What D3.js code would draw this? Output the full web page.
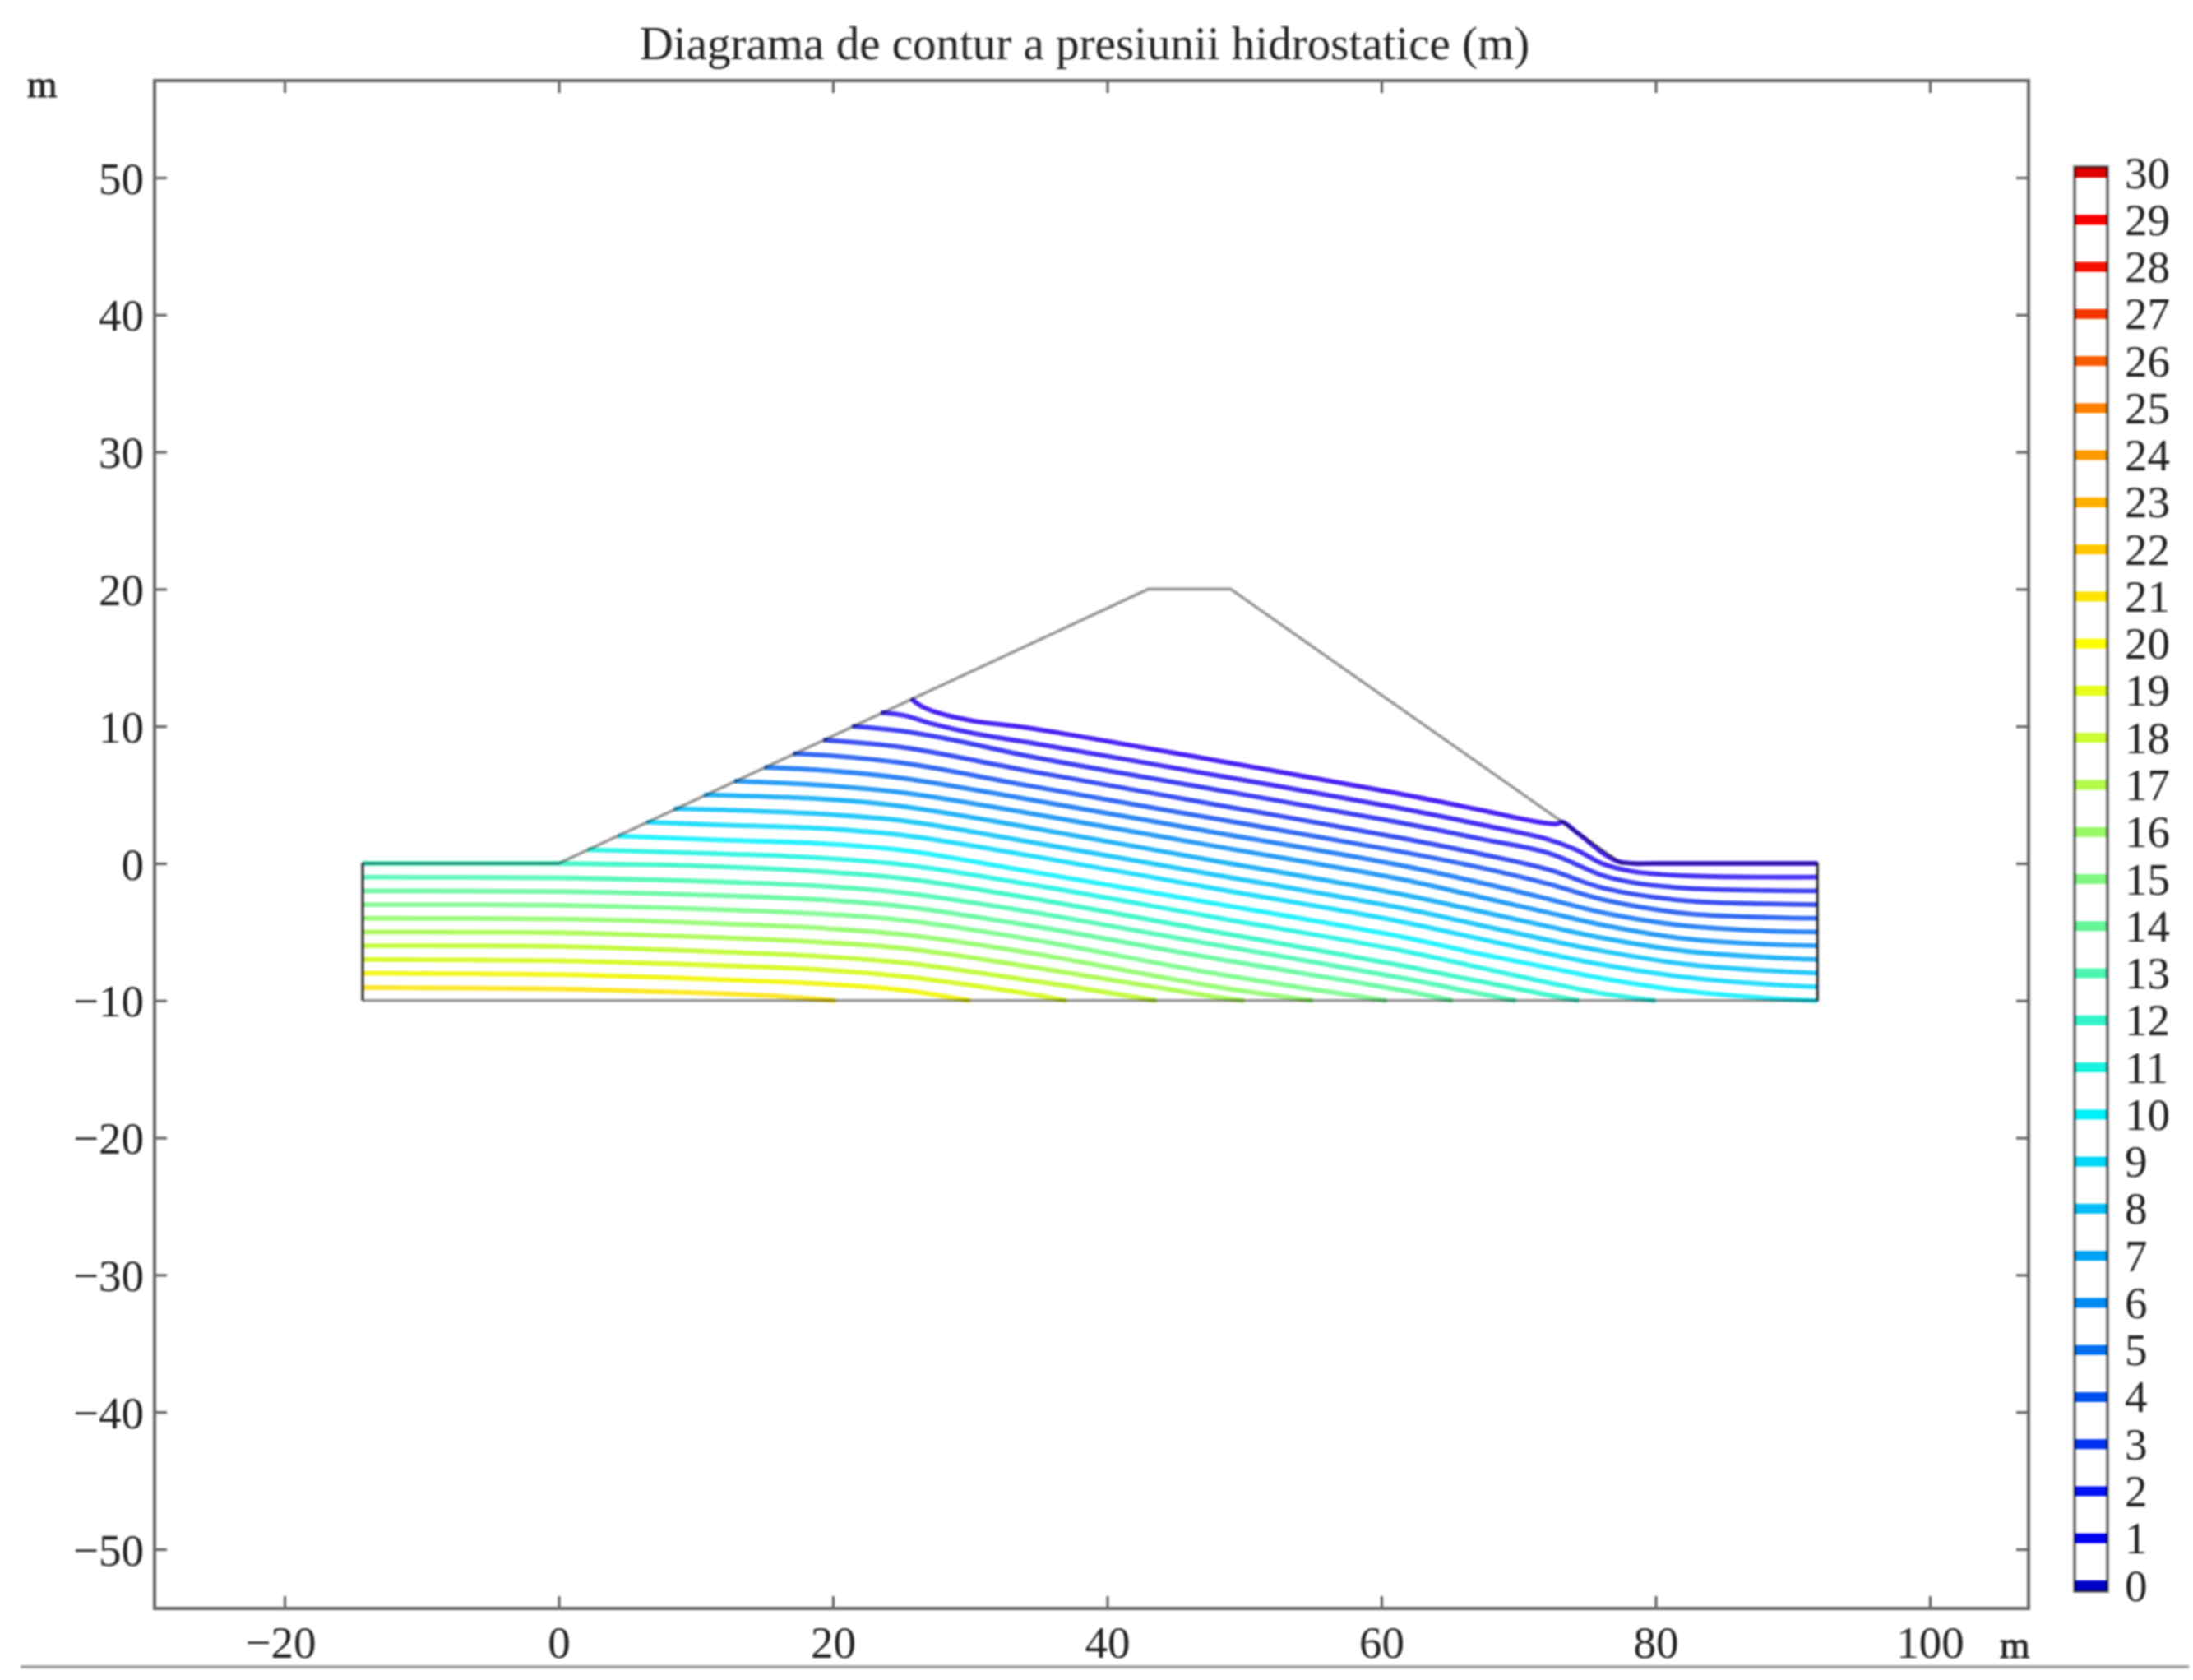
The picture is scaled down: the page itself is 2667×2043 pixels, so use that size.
<!DOCTYPE html>
<html><head><meta charset="utf-8">
<script src="https://cdn.jsdelivr.net/npm/d3@7"></script>
<style>
html,body{margin:0;padding:0;background:#fff;overflow:hidden}
svg{display:block;filter:blur(1.1px)}
text{font-family:"Liberation Serif",serif;fill:#222}
</style></head><body><div id="chart"></div>
<script>
const chartTitle = "Diagrama de contur a presiunii hidrostatice (m)";
const unitLabel = "m";
const xTicks = [-20,0,20,40,60,80,100];
const yTicks = [-50,-40,-30,-20,-10,0,10,20,30,40,50];
const legendLevels = d3.range(0,31);

// Dam / foundation cross-section [x, y] in metres
const damOutline = [[-14.3,-10],[-14.3,0],[0,0],[43,20],[49,20],[77.5,0],[91.8,0],[91.8,-10],[-14.3,-10]];
const damLeftFlank = [[-14.3,0],[-14.3,-10]];
const damRightFlank = [[91.8,0],[91.8,-10]];

// Hydrostatic pressure contours, one list per level: [x, y] in metres
const level0  = [[25.7,12],[26.4,11.5],[27.6,11],[30.2,10.4],[34.2,9.89],[47.7,7.55],[61.2,5.1],[67.2,3.9],[71,3.1],[72.8,2.88],[73.2,3.02],[74.2,2.3],[75.2,1.5],[76.2,0.72],[77.2,0.17],[78.4,0],[80,0],[91.8,0]];
const level1  = [[23.5,11],[25.2,10.79],[27.2,10.19],[30.2,9.5],[34.2,8.83],[47.7,6.47],[61.2,4.05],[67.2,2.84],[72,1.8],[74.2,1],[76.2,-0.05],[78.4,-0.6],[82.2,-0.9],[88.2,-1],[91.8,-1]];
const level2  = [[21.4,10],[25.2,9.63],[29,8.95],[34.2,7.83],[47.7,5.42],[61.2,3],[67.2,1.8],[72.2,0.75],[76.2,-0.9],[78.4,-1.4],[82.2,-1.8],[88.2,-1.97],[91.8,-2]];
const level3  = [[19.3,9],[25.2,8.45],[34.2,6.76],[47.7,4.33],[61.2,1.9],[67.2,0.7],[72.2,-0.45],[76.2,-1.8],[82.2,-2.72],[88.2,-2.95],[91.8,-3]];
const level4  = [[17.1,8],[19.2,7.9],[25.2,7.3],[34.2,5.68],[47.7,3.29],[61.2,0.9],[67.2,-0.3],[72.2,-1.5],[76.2,-2.65],[82.2,-3.65],[88.2,-3.93],[91.8,-4]];
const level5  = [[15,7],[19.2,6.8],[25.2,6.2],[34.2,4.68],[47.7,2.29],[61.2,-0.1],[67.2,-1.4],[72.2,-2.6],[76.2,-3.6],[82.2,-4.55],[88.2,-4.92],[91.8,-5]];
const level6  = [[12.8,6],[19.2,5.7],[25.2,5.15],[34.2,3.68],[47.7,1.29],[61.2,-1.1],[67.2,-2.45],[72.2,-3.6],[76.2,-4.5],[82.2,-5.5],[88.2,-5.9],[91.8,-6]];
const level7  = [[10.6,5],[19.2,4.7],[25.2,4.15],[34.2,2.64],[47.7,0.22],[61.2,-2.2],[67.2,-3.5],[72.2,-4.6],[76.2,-5.45],[82.2,-6.4],[88.2,-6.85],[91.8,-7]];
const level8  = [[8.4,4],[12,3.9],[19.2,3.6],[25.2,3.1],[34.2,1.6],[47.7,-0.8],[61.2,-3.2],[67.2,-4.5],[72.2,-5.6],[76.2,-6.4],[82.2,-7.35],[88.2,-7.82],[91.8,-8]];
const level9  = [[6.4,3],[12,2.8],[19.2,2.55],[25.2,2.05],[34.2,0.6],[47.7,-1.8],[61.2,-4.2],[67.2,-5.5],[72.2,-6.6],[76.2,-7.4],[82.2,-8.3],[88.2,-8.82],[91.8,-9]];
const level10 = [[4.3,2],[12,1.7],[19.2,1.45],[25.2,0.95],[34.2,-0.56],[47.7,-2.9],[61.2,-5.3],[67.2,-6.6],[72.2,-7.6],[76.2,-8.4],[82.2,-9.3],[88.2,-9.82],[91.8,-10]];
const level11 = [[2.1,1],[12,0.7],[19.2,0.4],[25.2,-0.1],[34.2,-1.5],[47.7,-3.9],[61.2,-6.3],[67.2,-7.6],[72.2,-8.7],[76.2,-9.5],[80,-10]];
const level12 = [[-14.3,0],[0,0],[7.2,-0.1],[12,-0.25],[19.2,-0.6],[25.2,-1.1],[34.2,-2.5],[47.7,-4.95],[61.2,-7.4],[67.2,-8.6],[72.2,-9.6],[74.4,-10]];
const level13 = [[-14.3,-1],[0,-1.05],[7.2,-1.2],[12,-1.35],[19.2,-1.65],[25.2,-2.15],[34.2,-3.5],[47.7,-5.9],[61.2,-8.3],[67.2,-9.5],[69.8,-10]];
const level14 = [[-14.3,-2],[0,-2.05],[7.2,-2.2],[12,-2.35],[19.2,-2.65],[25.2,-3.15],[34.2,-4.5],[47.7,-6.9],[61.2,-9.2],[65.2,-10]];
const level15 = [[-14.3,-3],[0,-3.05],[7.2,-3.22],[12,-3.38],[19.2,-3.68],[25.2,-4.15],[34.2,-5.5],[47.7,-8],[60.4,-10]];
const level16 = [[-14.3,-4],[0,-4.05],[7.2,-4.22],[12,-4.4],[19.2,-4.72],[25.2,-5.2],[34.2,-6.5],[47.7,-8.95],[55,-10]];
const level17 = [[-14.3,-5],[0,-5.05],[7.2,-5.25],[12,-5.42],[19.2,-5.75],[25.2,-6.2],[34.2,-7.5],[47.7,-9.7],[50,-10]];
const level18 = [[-14.3,-6],[0,-6.05],[7.2,-6.28],[12,-6.45],[19.2,-6.78],[25.2,-7.25],[34.2,-8.5],[43.6,-10]];
const level19 = [[-14.3,-7],[0,-7.1],[7.2,-7.3],[12,-7.45],[19.2,-7.75],[25.2,-8.25],[34.2,-9.5],[37,-10]];
const level20 = [[-14.3,-8],[0,-8.1],[7.2,-8.3],[12,-8.48],[19.2,-8.78],[25.2,-9.25],[30,-10]];
const level21 = [[-14.3,-9.05],[0,-9.15],[7.2,-9.35],[12,-9.5],[17,-9.75],[20.2,-10]];
const contours = [level0,level1,level2,level3,level4,level5,level6,level7,level8,level9,level10,level11,level12,level13,level14,level15,level16,level17,level18,level19,level20,level21];

// Colour ramps
const legendStopLevels = [0,1,2,5,10,15,20,22,25,28,29,30];
const legendStopColours = ["#0000c8","#0000f0","#0010f0","#0070f0","#00f0f8","#80f880","#ffff00","#ffc800","#ff8000","#f41000","#fa0000","#e00000"];
const lineStopLevels = [0,3,5,7,10,12,15,18,20,21];
const lineStopColours = ["#4a22f2","#3a50f0","#2f86f4","#27b4f6","#2af2ff","#48f6cc","#86fb96","#c4fb42","#f2f71c","#fde72a"];

const W = 2667, H = 2043;
const frame = {left:188, right:2467, top:98, bottom:1956};
const x = d3.scaleLinear().domain([-20,100]).range([346,2347]);
const y = d3.scaleLinear().domain([-50,50]).range([1884,216]);
const legY = d3.scaleLinear().domain([0,30]).range([1928,210]);
const legColour = d3.scaleLinear().domain(legendStopLevels).range(legendStopColours);
const lineColour = d3.scaleLinear().domain(lineStopLevels).range(lineStopColours);

const svg = d3.select("#chart").append("svg").attr("width",W).attr("height",H).attr("viewBox",`0 0 ${W} ${H}`);
svg.append("rect").attr("width",W).attr("height",H).attr("fill","#fff");

const line = d3.line().x(d=>x(d[0])).y(d=>y(d[1])).curve(d3.curveCatmullRom.alpha(0.5));
const straight = d3.line().x(d=>x(d[0])).y(d=>y(d[1]));
const gLines = svg.append("g").attr("fill","none");
gLines.selectAll("path").data(contours).join("path")
  .attr("d",line).attr("stroke",(d,i)=>lineColour(i)).attr("stroke-width",5.8);

svg.append("path").datum(damOutline)
  .attr("d",straight)
  .attr("fill","none").attr("stroke","#969696").attr("stroke-width",3.6)
  .style("mix-blend-mode","multiply");
svg.selectAll("path.flank").data([damLeftFlank,damRightFlank]).join("path").attr("class","flank")
  .attr("d",straight).attr("fill","none").attr("stroke","#777").attr("stroke-width",3.4)
  .style("mix-blend-mode","multiply");

// Axes
const tickFont = 55;
const styleAxis = g => {
  g.select(".domain").remove();
  g.selectAll(".tick line").attr("stroke","#666").attr("stroke-width",3.2);
  g.selectAll("text").attr("font-size",tickFont).attr("fill","#222").attr("font-family","Liberation Serif");
};
svg.append("g").attr("transform",`translate(0,${frame.bottom})`)
  .call(d3.axisBottom(x).tickValues(xTicks).tickSizeInner(-15).tickSizeOuter(0).tickPadding(0))
  .call(styleAxis)
  .call(g=>g.selectAll("text").attr("y",60).attr("dy",0).attr("dx",d=>d<0?-5:0));
svg.append("g").attr("transform",`translate(0,${frame.top})`)
  .call(d3.axisTop(x).tickValues(xTicks).tickSizeInner(-15).tickSizeOuter(0).tickFormat(""))
  .call(styleAxis);
svg.append("g").attr("transform",`translate(${frame.left},0)`)
  .call(d3.axisLeft(y).tickValues(yTicks).tickSizeInner(-15).tickSizeOuter(0).tickPadding(0))
  .call(styleAxis)
  .call(g=>g.selectAll("text").attr("x",-13).attr("dy",19));
svg.append("g").attr("transform",`translate(${frame.right},0)`)
  .call(d3.axisRight(y).tickValues(yTicks).tickSizeInner(-15).tickSizeOuter(0).tickFormat(""))
  .call(styleAxis);
svg.append("rect").attr("x",frame.left).attr("y",frame.top)
  .attr("width",frame.right-frame.left).attr("height",frame.bottom-frame.top)
  .attr("fill","none").attr("stroke","#666").attr("stroke-width",4);

// Titles and units
svg.append("text").attr("x",1319).attr("y",72).attr("text-anchor","middle").attr("font-size",57).text(chartTitle);
svg.selectAll("text.unit").data([[33,118],[2432,2016]]).join("text").attr("class","unit")
  .attr("x",d=>d[0]).attr("y",d=>d[1]).attr("font-size",47)
  .attr("stroke","#222").attr("stroke-width",0.9).text(unitLabel);

// Rule under the figure
svg.append("line").attr("x1",25).attr("x2",2662).attr("y1",2027).attr("y2",2027).attr("stroke","#999").attr("stroke-width",3.5);

// Colour legend
const leg = svg.append("g");
const bandH = 12, legL = 2523, legR = 2563;
leg.selectAll("rect.band").data(legendLevels).join("rect").attr("class","band")
  .attr("x",legL).attr("width",legR-legL)
  .attr("y",d=>d===30?legY(d)-bandH/2-1:legY(d)-bandH/2)
  .attr("height",d=>(d===0||d===30)?bandH+1:bandH)
  .attr("fill",d=>legColour(d));
leg.append("rect").attr("x",legL).attr("y",legY(30)-7).attr("width",legR-legL).attr("height",legY(0)-legY(30)+14)
  .attr("fill","none").attr("stroke","#6a6a6a").attr("stroke-width",3.6).style("mix-blend-mode","multiply");
leg.append("g").attr("transform",`translate(${legR},0)`)
  .call(d3.axisRight(legY).tickValues(legendLevels).tickSize(0).tickPadding(21).tickFormat(d3.format("d")))
  .call(g=>g.select(".domain").remove())
  .call(g=>g.selectAll("text").attr("font-size",tickFont).attr("fill","#222").attr("font-family","Liberation Serif").attr("dy",18));
</script></body></html>
